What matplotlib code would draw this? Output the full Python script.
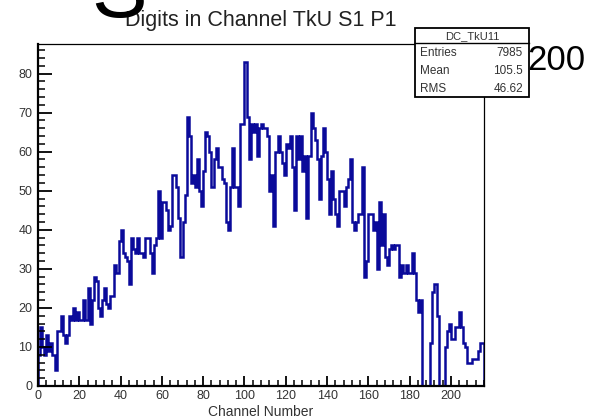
import numpy as np
import matplotlib.pyplot as plt
from matplotlib.patches import Rectangle
from matplotlib.ticker import MultipleLocator

plt.rcParams['font.family'] = ['Liberation Sans', 'DejaVu Sans']

# Digit counts per channel, one entry per bin (channels 0..215)
counts = [
    8, 15, 10, 8, 13, 9, 11, 8, 4, 14,
    14, 18, 13, 11, 13, 18, 17, 20, 17, 19,
    17, 17, 22, 17, 25, 16, 22, 28, 27, 20,
    18, 22, 25, 21, 20, 23, 23, 31, 29, 37,
    40, 34, 33, 32, 26, 38, 35, 34, 38, 34,
    34, 33, 38, 38, 34, 29, 36, 38, 50, 38,
    47, 47, 45, 40, 41, 54, 54, 51, 43, 33,
    42, 49, 69, 64, 52, 54, 51, 58, 50, 46,
    55, 65, 64, 60, 51, 58, 61, 56, 56, 53,
    52, 42, 40, 51, 61, 51, 51, 46, 67, 67,
    83, 69, 58, 67, 65, 67, 59, 66, 67, 66,
    66, 64, 50, 54, 41, 60, 64, 60, 57, 54,
    62, 61, 64, 56, 45, 64, 58, 64, 55, 59,
    43, 59, 70, 66, 63, 58, 48, 59, 66, 60,
    53, 44, 55, 48, 44, 41, 50, 50, 46, 51,
    53, 58, 42, 40, 42, 44, 44, 56, 28, 32,
    44, 44, 40, 42, 30, 47, 36, 44, 33, 31,
    35, 36, 35, 36, 36, 28, 31, 29, 31, 29,
    29, 34, 29, 22, 19, 22, 0, 0, 0, 0,
    11, 24, 26, 18, 0, 0, 0, 10, 14, 16,
    12, 12, 15, 15, 19, 15, 11, 10, 6, 6,
    7, 7, 7, 9, 11, 11,
]
edges = np.arange(len(counts) + 1)

hist_name = 'DC_TkU11'
stat_names = ['Entries', 'Mean', 'RMS']
stat_values = ['7985', '105.5', '46.62']

W, H = 591, 420
fig = plt.figure(figsize=(W / 100, H / 100), dpi=100)
ax = fig.add_axes([38 / W, (H - 386) / H, 446 / W, 342 / H])

ax.stairs(counts, edges, baseline=0, color='#0a0a9a', lw=1.8)
ax.set_xlim(0, edges[-1])
ax.set_ylim(0, max(counts) * 1.055)

ax.xaxis.set_major_locator(MultipleLocator(20))
ax.xaxis.set_minor_locator(MultipleLocator(4))
ax.yaxis.set_major_locator(MultipleLocator(10))
ax.yaxis.set_minor_locator(MultipleLocator(2))
ax.tick_params(axis='x', which='major', direction='in', length=7, width=1.3,
               labelsize=9, labelcolor='#333333', pad=3)
ax.tick_params(axis='x', which='minor', direction='in', length=4, width=1.1)
ax.tick_params(axis='y', which='major', direction='in', length=10, width=1.3,
               labelsize=9, labelcolor='#333333', pad=4)
ax.tick_params(axis='y', which='minor', direction='in', length=5, width=1.1)

for side in ['left', 'bottom']:
    ax.spines[side].set_linewidth(1.6)
for side in ['top', 'right']:
    ax.spines[side].set_linewidth(0.9)

ax.set_xlabel('Channel Number', fontsize=10, color='#333333', labelpad=2)

fig.text(261 / W, 1 - 26 / H, 'Digits in Channel TkU S1 P1', fontsize=15.5,
         ha='center', va='baseline', color='#222222')

# stats box
bx0, by0, bx1, by1 = 415, 28, 529, 97
box = Rectangle((bx0 / W, 1 - by1 / H), (bx1 - bx0) / W, (by1 - by0) / H,
                transform=fig.transFigure, facecolor='white',
                edgecolor='black', lw=1.3, zorder=5)
fig.patches.append(box)
fig.add_artist(plt.Line2D([bx0 / W, bx1 / W], [1 - 43 / H, 1 - 43 / H],
                          transform=fig.transFigure, color='black', lw=1.0,
                          zorder=6))
fig.text((bx0 + bx1) / 2 / W, 1 - 36 / H, hist_name, fontsize=8,
         ha='center', va='center', color='#333333', zorder=7)
for i, (name, val) in enumerate(zip(stat_names, stat_values)):
    yy = 1 - (53 + 18 * i) / H
    fig.text(420 / W, yy, name, fontsize=8.5, ha='left', va='center',
             color='#333333', zorder=7)
    fig.text(523 / W, yy, val, fontsize=8.5, ha='right', va='center',
             color='#333333', zorder=7)

# large overlapping glyphs
fig.text(91 / W, 1 - 17 / H, 'S', fontsize=60, ha='left', va='baseline',
         color='black', zorder=8)
fig.text(527 / W, 1 - 70 / H, '200', fontsize=25, ha='left', va='baseline',
         color='black', zorder=8)

fig.savefig('out.png', dpi=100)
